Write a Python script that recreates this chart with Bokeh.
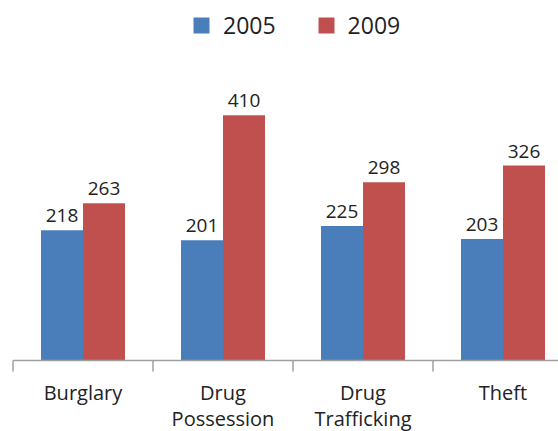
from bokeh.plotting import figure
from bokeh.models import ColumnDataSource, Legend, LegendItem, LabelSet
from bokeh.core.properties import value
from bokeh.transform import dodge
from bokeh.embed import file_html
from bokeh.resources import INLINE

categories = ["Burglary", "Drug\nPossession", "Drug\nTrafficking", "Theft"]
v2005 = [218, 201, 225, 203]
v2009 = [263, 410, 298, 326]
years = ["2005", "2009"]
colors = ["#4a7ebb", "#c0504d"]

n = len(categories)
idx = [i + 0.5 for i in range(n)]
bounds = [float(i) for i in range(n + 1)]
line1 = [c.split("\n")[0] for c in categories]
line2 = [c.split("\n")[1] if "\n" in c else "" for c in categories]
src = ColumnDataSource(dict(x=idx, a=v2005, b=v2009, zero=[0] * n,
                            l1=line1, l2=line2,
                            la=[str(v) for v in v2005], lb=[str(v) for v in v2009]))

PX_PER_UNIT = 0.598  # vertical pixels per value unit
TICK_LEN = 11 / PX_PER_UNIT

p = figure(width=558, height=431, output_backend="svg", toolbar_location=None,
           x_range=(-0.0893, 3.8964), y_range=(-118.7, 602.0))
p.min_border_left = 0
p.min_border_right = 0
p.min_border_top = 0
p.min_border_bottom = 0
p.outline_line_color = None
p.xgrid.visible = False
p.ygrid.visible = False
p.xaxis.visible = False
p.yaxis.visible = False

r1 = p.vbar(x=dodge("x", -0.15, range=p.x_range), top="a", width=0.3, source=src,
            fill_color=colors[0], line_color=None)
r2 = p.vbar(x=dodge("x", 0.15, range=p.x_range), top="b", width=0.3, source=src,
            fill_color=colors[1], line_color=None)

# category axis: baseline and boundary ticks
p.segment(x0=[bounds[0]], y0=[0], x1=[bounds[-1] + 0.2], y1=[0],
          line_color="#a0a0a0", line_width=1.5)
p.segment(x0=bounds, y0=[0] * len(bounds), x1=bounds, y1=[-TICK_LEN] * len(bounds),
          line_color="#a0a0a0", line_width=1.5)

for col, lab, off in (("a", "la", -0.15), ("b", "lb", 0.15)):
    ls = LabelSet(x=dodge("x", off, range=p.x_range), y=col, text=lab, source=src,
                  text_align="center", text_baseline="alphabetic", y_offset=8,
                  text_font=value("Open Sans"), text_font_size="19px", text_color="#222222")
    p.add_layout(ls)

for col, yoff in (("l1", -39), ("l2", -65)):
    cl = LabelSet(x="x", y="zero", text=col, source=src, text_align="center",
                  text_baseline="alphabetic", y_offset=yoff, text_font=value("Open Sans"),
                  text_font_size="20px", text_color="#222222")
    p.add_layout(cl)

legend = Legend(items=[LegendItem(label=years[0], renderers=[r1]),
                       LegendItem(label=years[1], renderers=[r2])],
                location=(191, 390), orientation="horizontal",
                glyph_width=20, glyph_height=20, label_text_font="Open Sans",
                label_text_font_size="23px", label_text_color="#222222",
                spacing=40, label_standoff=12, border_line_color=None,
                background_fill_alpha=0, margin=0, padding=4)
p.add_layout(legend)

open("out.html", "w").write(file_html(p, INLINE))
